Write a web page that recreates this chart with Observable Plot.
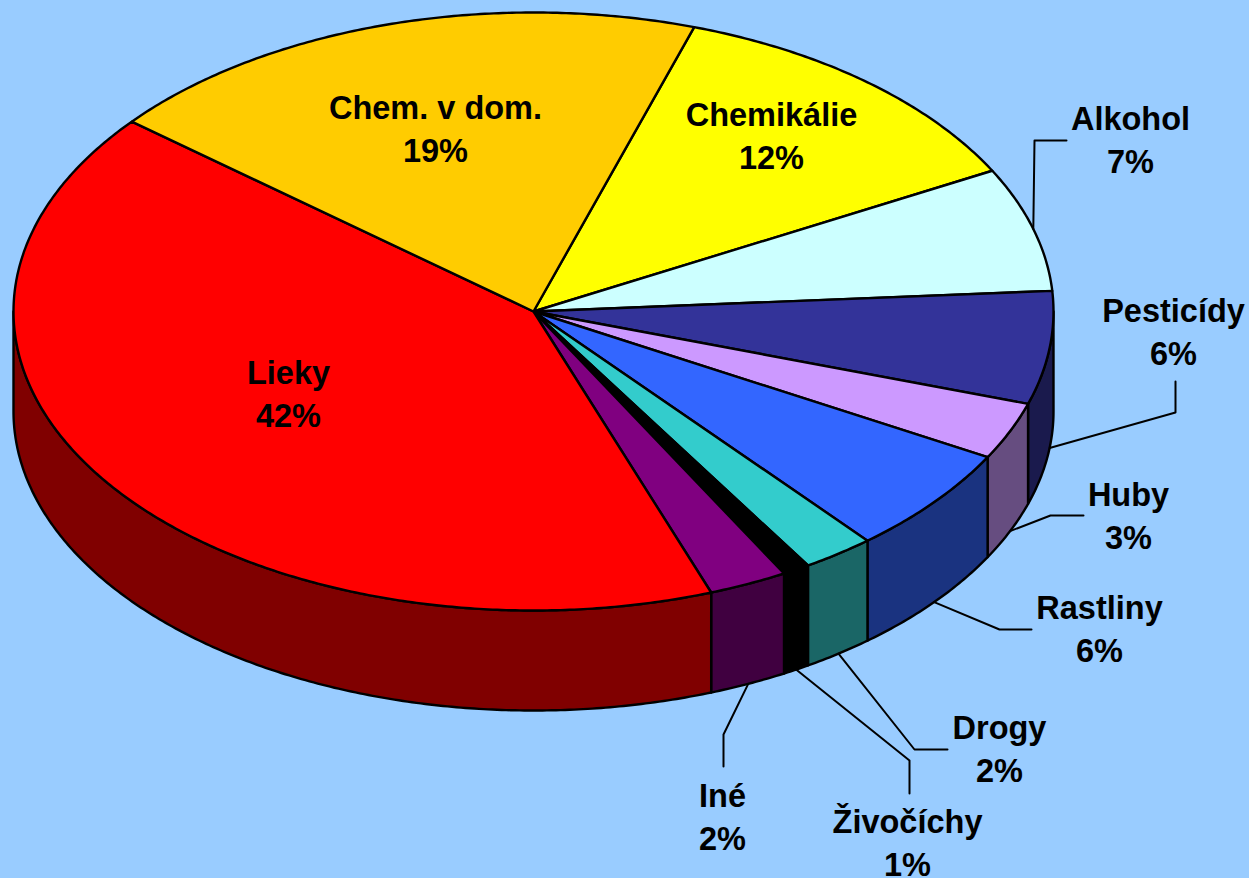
<!DOCTYPE html>
<html><head><meta charset="utf-8">
<style>html,body{margin:0;padding:0;background:#99CCFF;overflow:hidden}svg{display:block}</style>
<script src="https://cdn.jsdelivr.net/npm/d3@7"></script>
<script src="https://cdn.jsdelivr.net/npm/@observablehq/plot@0.6"></script>
</head><body><script>
// Data: clockwise from the top-right edge of "Chem. v dom."
const names  = ["Chemikálie","Alkohol","Pesticídy","Huby","Rastliny","Drogy","Živočíchy","Iné","Lieky","Chem. v dom."];
const values = [12.2,6.7,6.1,3.1,5.8,2.25,0.85,2.45,41.5,19.05];
const tops   = ["#FFFF00","#CCFFFF","#333399","#CC99FF","#3366FF","#33CCCC","#000000","#800080","#FF0000","#FFCC00"];
const sides  = ["#808000","#668080","#1A1A4D","#664D80","#1A3380","#1A6666","#000000","#400040","#800000","#806600"];
// Layout
const W = 1249, H = 878;
const cx = 533, cy = 311, rx = 520, ry = 299, depth = 100, startDeg = 18;
const labelX = [771,1130,1173,1128,1099,999,907,722,288,435];
const labelY = [135,139,331,515,628,748,842,816,393,128];
const elbows = [null,[[1034,140],[1066,140]],[[1175,412],[1175,381]],[[1050,515],[1083,515]],[[999,629],[1031,629]],[[914,749],[947,749]],[[909,760],[909,793]],[[723,734],[723,766]],null,null];

const pt = (deg, dz = 0) => {
  const a = deg * Math.PI / 180;
  return {x: cx + rx * Math.sin(a), y: cy - ry * Math.cos(a) + dz};
};
const arc = (a, b, dz = 0) => {
  const n = Math.max(2, Math.ceil(Math.abs(b - a) / 0.5));
  return d3.range(n + 1).map(i => pt(a + (b - a) * i / n, dz));
};
let acc = startDeg;
const slices = values.map((v, i) => {
  const a = acc, b = acc + v * 3.6; acc = b;
  return {i, a, b, mid: (a + b) / 2};
});
const topShapes = [], wallShapes = [], leaders = [];
for (const s of slices) {
  [{x: cx, y: cy}, ...arc(s.a, s.b), {x: cx, y: cy}].forEach(p => topShapes.push({...p, id: s.i, fill: tops[s.i]}));
  const a = Math.max(s.a, 90), b = Math.min(s.b, 270);
  if (a < b) {
    const top = arc(a, b), bottom = arc(a, b, depth).reverse();
    [...top, ...bottom, top[0]].forEach(p => wallShapes.push({...p, id: s.i, fill: sides[s.i]}));
  }
  if (elbows[s.i]) {
    const start = pt(s.mid, s.mid > 90 ? depth : 0);
    [start, ...elbows[s.i].map(([x, y]) => ({x, y}))].forEach(p => leaders.push({...p, id: s.i}));
  }
}
const labels = slices.map(s => ({
  x: labelX[s.i], y: labelY[s.i] - 2, text: names[s.i] + "\n" + Math.round(values[s.i]) + "%"
}));

const outline = {x: "x", y: "y", z: "id", fill: "fill", stroke: "#000", strokeWidth: 2.4, strokeLinejoin: "round", curve: "linear"};
const chart = Plot.plot({
  width: W, height: H, margin: 0,
  x: {domain: [0, W], range: [0, W], axis: null},
  y: {domain: [0, H], range: [0, H], axis: null},
  style: {background: "#99CCFF"},
  marks: [
    Plot.line(wallShapes, outline),
    Plot.line(topShapes, outline),
    Plot.line(leaders, {x: "x", y: "y", z: "id", stroke: "#000", strokeWidth: 2, curve: "linear"}),
    Plot.text(labels, {x: "x", y: "y", text: "text", fontSize: 32.5, fontWeight: "bold",
      fontFamily: "'Liberation Sans', Arial, sans-serif", fill: "#000", lineHeight: 1.32, textAnchor: "middle"})
  ]
});
document.body.appendChild(chart);
</script></body></html>
